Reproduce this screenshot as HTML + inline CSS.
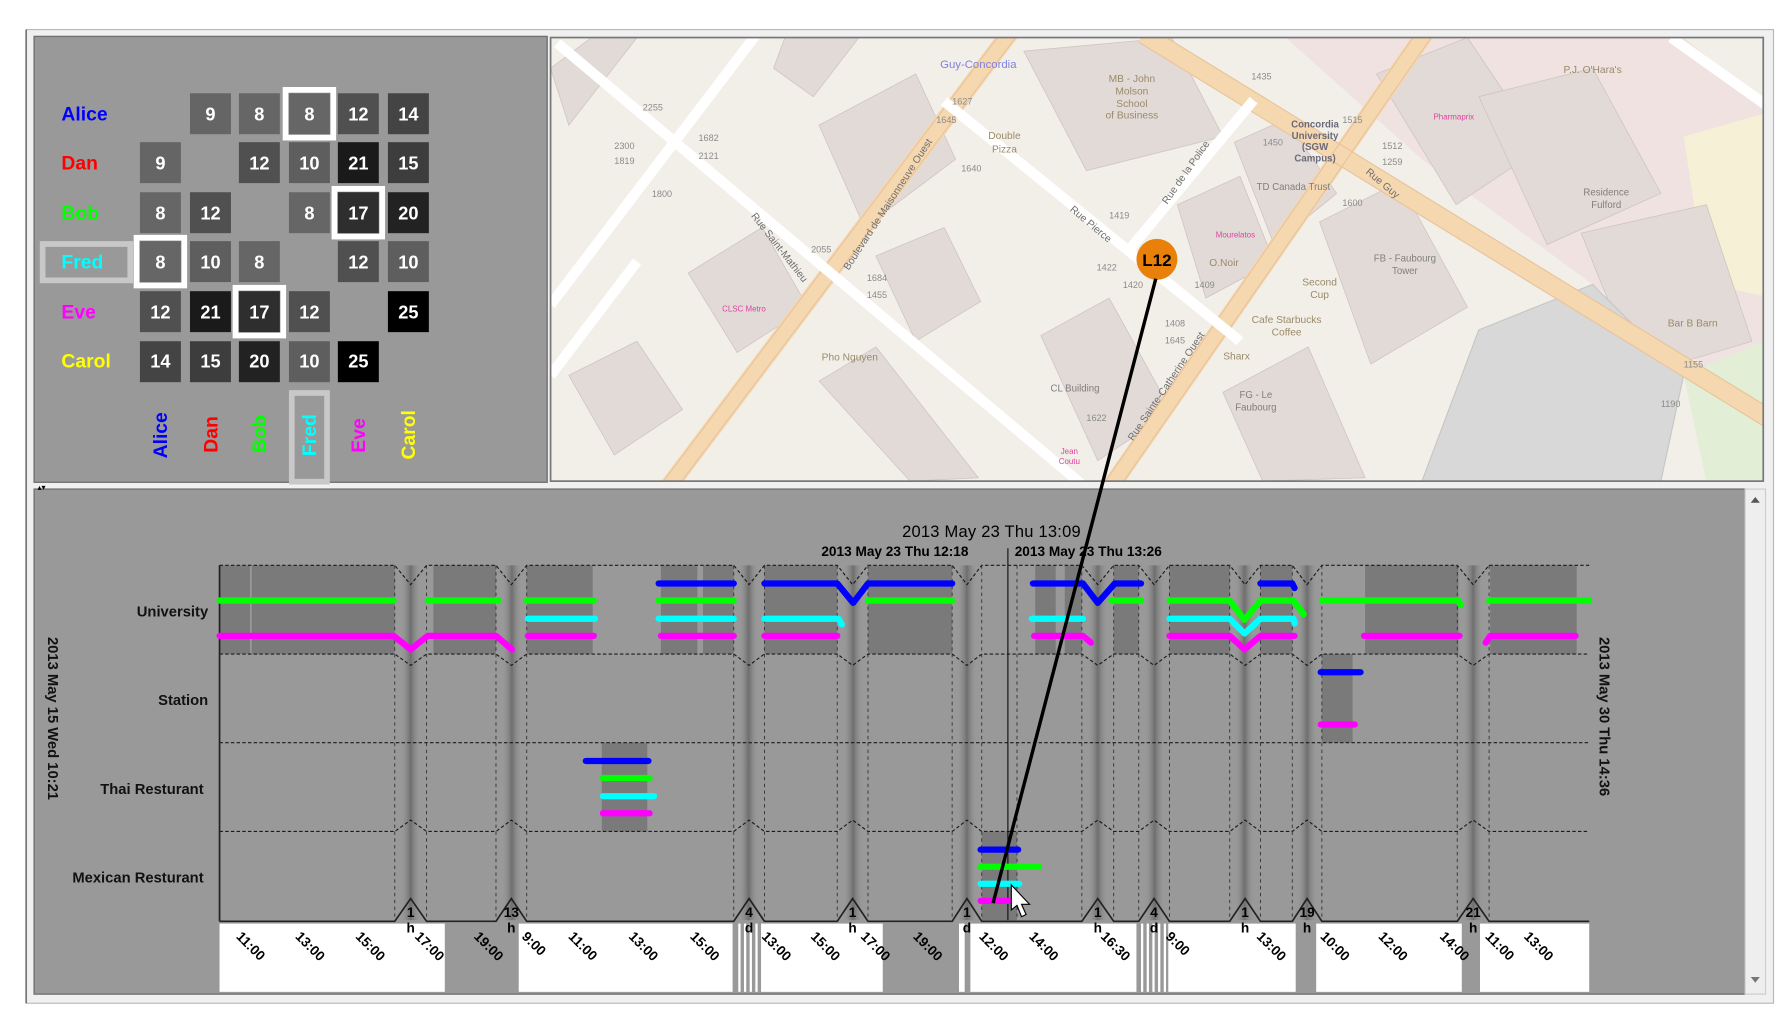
<!DOCTYPE html>
<html><head><meta charset="utf-8"><style>
html,body{margin:0;padding:0;background:#fff;}
svg{display:block;}
text{font-family:"Liberation Sans",Arial,sans-serif;}
</style></head><body>
<svg width="1786" height="1018" viewBox="0 0 1570 895" preserveAspectRatio="none" xmlns="http://www.w3.org/2000/svg">
<defs>
<linearGradient id="brk" x1="0" x2="1" y1="0" y2="0">
<stop offset="0" stop-color="#999" stop-opacity="0"/>
<stop offset="0.5" stop-color="#6e6e6e" stop-opacity="1"/>
<stop offset="1" stop-color="#999" stop-opacity="0"/>
</linearGradient>
</defs>
<rect width="1570" height="895" fill="#fff"/>
<rect x="23" y="26" width="1536" height="856" fill="#f0f0f0" stroke="#b8b8b8" stroke-width="1"/>
<line x1="23" y1="26" x2="23" y2="882" stroke="#777" stroke-width="1.5"/>

<!-- MATRIX PANEL -->
<rect x="30" y="32" width="451" height="392" fill="#999" stroke="#707070" stroke-width="1.2"/>
<g font-weight="bold" font-size="17">
<text x="54" y="106" fill="#0000ff">Alice</text>
<text x="54" y="149" fill="#ff0000">Dan</text>
<text x="54" y="193" fill="#00ff00">Bob</text>
<text x="54" y="236" fill="#00ffff">Fred</text>
<text x="54" y="280" fill="#ff00ff">Eve</text>
<text x="54" y="323" fill="#ffff00">Carol</text>
</g>
<rect x="37.5" y="214.5" width="77" height="32" fill="none" stroke="#c8c8c8" stroke-width="5"/>
<g>
<rect x="167" y="82" width="36" height="36" fill="#656565"/>
<rect x="210" y="82" width="36" height="36" fill="#666"/>
<rect x="254" y="82" width="36" height="36" fill="#666"/>
<rect x="297" y="82" width="36" height="36" fill="#505050"/>
<rect x="341" y="82" width="36" height="36" fill="#444"/>
<rect x="123" y="125" width="36" height="36" fill="#656565"/>
<rect x="210" y="125" width="36" height="36" fill="#505050"/>
<rect x="254" y="125" width="36" height="36" fill="#5e5e5e"/>
<rect x="297" y="125" width="36" height="36" fill="#1a1a1a"/>
<rect x="341" y="125" width="36" height="36" fill="#3d3d3d"/>
<rect x="123" y="169" width="36" height="36" fill="#666"/>
<rect x="167" y="169" width="36" height="36" fill="#505050"/>
<rect x="254" y="169" width="36" height="36" fill="#666"/>
<rect x="297" y="169" width="36" height="36" fill="#2e2e2e"/>
<rect x="341" y="169" width="36" height="36" fill="#222"/>
<rect x="123" y="212" width="36" height="36" fill="#666"/>
<rect x="167" y="212" width="36" height="36" fill="#5e5e5e"/>
<rect x="210" y="212" width="36" height="36" fill="#666"/>
<rect x="297" y="212" width="36" height="36" fill="#505050"/>
<rect x="341" y="212" width="36" height="36" fill="#5e5e5e"/>
<rect x="123" y="256" width="36" height="36" fill="#505050"/>
<rect x="167" y="256" width="36" height="36" fill="#1a1a1a"/>
<rect x="210" y="256" width="36" height="36" fill="#2e2e2e"/>
<rect x="254" y="256" width="36" height="36" fill="#505050"/>
<rect x="341" y="256" width="36" height="36" fill="#000"/>
<rect x="123" y="300" width="36" height="36" fill="#444"/>
<rect x="167" y="300" width="36" height="36" fill="#3d3d3d"/>
<rect x="210" y="300" width="36" height="36" fill="#222"/>
<rect x="254" y="300" width="36" height="36" fill="#5e5e5e"/>
<rect x="297" y="300" width="36" height="36" fill="#000"/>
</g>
<g fill="none" stroke="#fff" stroke-width="5">
<rect x="251" y="79" width="42" height="42"/>
<rect x="294" y="166" width="42" height="42"/>
<rect x="120" y="209" width="42" height="42"/>
<rect x="207" y="253" width="42" height="42"/>
</g>
<g font-weight="bold" font-size="16" fill="#fff" text-anchor="middle">
<text x="185" y="106">9</text><text x="228" y="106">8</text><text x="272" y="106">8</text><text x="315" y="106">12</text><text x="359" y="106">14</text>
<text x="141" y="149">9</text><text x="228" y="149">12</text><text x="272" y="149">10</text><text x="315" y="149">21</text><text x="359" y="149">15</text>
<text x="141" y="193">8</text><text x="185" y="193">12</text><text x="272" y="193">8</text><text x="315" y="193">17</text><text x="359" y="193">20</text>
<text x="141" y="236">8</text><text x="185" y="236">10</text><text x="228" y="236">8</text><text x="315" y="236">12</text><text x="359" y="236">10</text>
<text x="141" y="280">12</text><text x="185" y="280">21</text><text x="228" y="280">17</text><text x="272" y="280">12</text><text x="359" y="280">25</text>
<text x="141" y="323">14</text><text x="185" y="323">15</text><text x="228" y="323">20</text><text x="272" y="323">10</text><text x="315" y="323">25</text>
</g>
<rect x="256.5" y="345.5" width="31" height="78" fill="none" stroke="#c8c8c8" stroke-width="5"/>
<g font-weight="bold" font-size="17">
<text transform="translate(147,403) rotate(-90)" fill="#0000ff">Alice</text>
<text transform="translate(191,398) rotate(-90)" fill="#ff0000">Dan</text>
<text transform="translate(234,398) rotate(-90)" fill="#00ff00">Bob</text>
<text transform="translate(278,401) rotate(-90)" fill="#00ffff">Fred</text>
<text transform="translate(321,398) rotate(-90)" fill="#ff00ff">Eve</text>
<text transform="translate(365,404) rotate(-90)" fill="#ffff00">Carol</text>
</g>

<!-- MAP PANEL -->
<svg x="484" y="33" width="1066" height="390" viewBox="484 33 1066 390">
<rect x="484" y="33" width="1066" height="390" fill="#f2efe9"/>
<polygon points="1130,33 1480,33 1550,90 1550,360 1250,140" fill="#efe2e0"/>
<polygon points="1480,120 1550,100 1550,260 1500,250" fill="#f6f0d6"/>
<polygon points="1480,330 1550,300 1550,423 1500,423" fill="#e2efd6"/>
<g fill="#e2dad7" stroke="#cfc4c2" stroke-width="0.7">
<polygon points="690,33 755,33 715,85 680,60"/>
<polygon points="720,110 805,65 840,140 760,200"/>
<polygon points="605,240 670,200 710,270 648,310"/>
<polygon points="770,225 830,200 862,265 805,300"/>
<polygon points="720,335 770,305 860,420 800,423"/>
<polygon points="900,45 1030,33 1075,120 955,150"/>
<polygon points="1085,125 1130,105 1175,170 1120,215"/>
<polygon points="1035,180 1090,155 1120,230 1060,262"/>
<polygon points="915,295 975,262 1030,362 965,405"/>
<polygon points="1160,195 1230,160 1290,270 1205,320"/>
<polygon points="1075,345 1150,305 1200,420 1110,423"/>
<polygon points="1210,65 1290,33 1355,130 1280,180"/>
<polygon points="1300,85 1400,60 1460,170 1360,215"/>
<polygon points="1390,205 1500,180 1540,300 1440,330"/>
<polygon points="484,60 520,33 560,33 500,110"/>
<polygon points="500,330 560,300 600,360 540,400"/>
</g>
<polygon points="1300,290 1400,250 1480,330 1460,423 1250,423" fill="#d8d8d8" stroke="#c6c6c6"/>
<g stroke="#f5d7b0" stroke-width="16" stroke-linecap="butt" fill="none">
<line x1="586" y1="430" x2="890" y2="26"/>
<line x1="975" y1="430" x2="1255" y2="26"/>
<line x1="1005" y1="30" x2="1555" y2="368"/>
</g>
<g stroke="#e8c49b" stroke-width="1" fill="none">
<line x1="578" y1="430" x2="882" y2="26"/><line x1="594" y1="430" x2="898" y2="26"/>
<line x1="967" y1="430" x2="1247" y2="26"/><line x1="983" y1="430" x2="1263" y2="26"/>
<line x1="1009" y1="23" x2="1559" y2="361"/><line x1="1001" y1="37" x2="1551" y2="375"/>
</g>
<g stroke="#fff" stroke-width="9" fill="none">
<line x1="490" y1="38" x2="950" y2="425"/>
<line x1="830" y1="89" x2="1090" y2="300"/>
<line x1="665" y1="30" x2="484" y2="268"/>
<line x1="1102" y1="88" x2="994" y2="218"/>
<line x1="1469" y1="33" x2="1552" y2="92"/>
<line x1="560" y1="230" x2="484" y2="330"/>
</g>
<g fill="#8b8b8b" font-size="8">
<text x="565" y="97">2255</text><text x="540" y="131">2300</text><text x="540" y="144">1819</text>
<text x="614" y="124">1682</text><text x="614" y="140">2121</text><text x="573" y="173">1800</text>
<text x="837" y="92">1627</text><text x="823" y="108">1645</text><text x="845" y="151">1640</text>
<text x="1100" y="70">1435</text><text x="1180" y="108">1515</text><text x="1215" y="131">1512</text>
<text x="1215" y="145">1259</text><text x="1110" y="128">1450</text><text x="975" y="192">1419</text>
<text x="964" y="238">1422</text><text x="987" y="253">1420</text><text x="1050" y="253">1409</text>
<text x="1024" y="287">1408</text><text x="1024" y="302">1645</text><text x="1180" y="181">1600</text>
<text x="955" y="370">1622</text><text x="713" y="222">2055</text><text x="762" y="247">1684</text>
<text x="762" y="262">1455</text><text x="1480" y="323">1155</text><text x="1460" y="358">1190</text>
</g>
<g fill="#9a8a6a" font-size="9" text-anchor="middle">
<text x="883" y="122">Double</text><text x="883" y="134">Pizza</text>
<text x="995" y="72">MB - John</text><text x="995" y="83">Molson</text><text x="995" y="94">School</text><text x="995" y="104">of Business</text>
<text x="1076" y="234">O.Noir</text>
<text x="1160" y="251">Second</text><text x="1160" y="262">Cup</text>
<text x="1131" y="284">Cafe Starbucks</text><text x="1131" y="295">Coffee</text>
<text x="1087" y="316">Sharx</text>
<text x="747" y="317">Pho Nguyen</text>
<text x="1488" y="287">Bar B Barn</text>
<text x="1400" y="64">P.J. O'Hara's</text>
</g>
<g fill="#7f7f7f" font-size="8.5" text-anchor="middle">
<text x="1156" y="112" font-weight="bold" fill="#6a6a7a">Concordia</text><text x="1156" y="122" font-weight="bold" fill="#6a6a7a">University</text><text x="1156" y="132" font-weight="bold" fill="#6a6a7a">(SGW</text><text x="1156" y="142" font-weight="bold" fill="#6a6a7a">Campus)</text>
<text x="1137" y="167">TD Canada Trust</text>
<text x="1235" y="230">FB - Faubourg</text><text x="1235" y="241">Tower</text>
<text x="1104" y="350">FG - Le</text><text x="1104" y="361">Faubourg</text>
<text x="945" y="344">CL Building</text>
<text x="1412" y="172">Residence</text><text x="1412" y="183">Fulford</text>
</g>
<text x="860" y="60" font-size="10" fill="#8080e0" text-anchor="middle">Guy-Concordia</text>
<g fill="#e040a0" font-size="7" text-anchor="middle">
<text x="1278" y="105">Pharmaprix</text><text x="654" y="274">CLSC Metro</text><text x="940" y="399">Jean</text><text x="940" y="408">Coutu</text>
<text x="1086" y="209">Mourelatos</text>
</g>
<g fill="#6f6f6f" font-size="9">
<text transform="translate(660,190) rotate(52)">Rue Saint-Mathieu</text>
<text transform="translate(746,238) rotate(-57)">Boulevard de Maisonneuve Ouest</text>
<text transform="translate(940,185) rotate(40)">Rue Pierce</text>
<text transform="translate(1026,180) rotate(-55)">Rue de la Police</text>
<text transform="translate(1200,152) rotate(40)">Rue Guy</text>
<text transform="translate(996,388) rotate(-56)">Rue Sainte-Catherine Ouest</text>
</g>
<circle cx="1017" cy="228" r="18" fill="#e8800a"/>
<text x="1017" y="234" font-size="15" font-weight="bold" text-anchor="middle" fill="#000">L12</text>
</svg>
<rect x="484" y="33" width="1066" height="390" fill="none" stroke="#777" stroke-width="1.5"/>

<!-- TIMELINE PANEL -->
<rect x="30" y="430" width="1504" height="444" fill="#999" stroke="#707070" stroke-width="1.2"/>
<rect x="1534" y="430" width="18" height="444" fill="#eeeeee" stroke="#ccc"/>
<polygon points="1539,442 1543,437 1547,442" fill="#555"/>
<polygon points="1539,859 1543,864 1547,859" fill="#777"/>
<text x="33" y="431" font-size="7" fill="#000">▴▾</text>

<g fill="#7a7a7a">
<rect x="193" y="497" width="154" height="78"/>
<rect x="381" y="497" width="55" height="78"/>
<rect x="463" y="497" width="58" height="78"/>
<rect x="581" y="497" width="32" height="78"/>
<rect x="618" y="497" width="27" height="78"/>
<rect x="672" y="497" width="64" height="78"/>
<rect x="763" y="497" width="74" height="78"/>
<rect x="910" y="497" width="18" height="78"/>
<rect x="936" y="497" width="15" height="78"/>
<rect x="979" y="497" width="22" height="78"/>
<rect x="1028" y="497" width="53" height="78"/>
<rect x="1108" y="497" width="28" height="78"/>
<rect x="1200" y="497" width="82" height="78"/>
<rect x="1310" y="497" width="76" height="78"/>
<rect x="1162" y="575" width="27" height="78"/>
<rect x="529" y="653" width="40" height="78"/>
<rect x="863" y="731" width="31" height="78"/>
</g>
<line x1="220.5" y1="497" x2="220.5" y2="575" stroke="#999" stroke-width="1.5"/>

<g fill="url(#brk)">
<rect x="352" y="497" width="18" height="312"/>
<rect x="441" y="497" width="18" height="312"/>
<rect x="649" y="497" width="18" height="312"/>
<rect x="741" y="497" width="18" height="312"/>
<rect x="841" y="497" width="18" height="312"/>
<rect x="956" y="497" width="18" height="312"/>
<rect x="1006" y="497" width="18" height="312"/>
<rect x="1085" y="497" width="18" height="312"/>
<rect x="1140" y="497" width="18" height="312"/>
<rect x="1286" y="497" width="18" height="312"/>
</g>

<g stroke="#333" stroke-width="0.8" stroke-dasharray="3,3">
<line x1="347" y1="497" x2="347" y2="809"/><line x1="375" y1="497" x2="375" y2="809"/>
<line x1="436" y1="497" x2="436" y2="809"/><line x1="463" y1="497" x2="463" y2="809"/>
<line x1="645" y1="497" x2="645" y2="809"/><line x1="672" y1="497" x2="672" y2="809"/>
<line x1="736" y1="497" x2="736" y2="809"/><line x1="763" y1="497" x2="763" y2="809"/>
<line x1="837" y1="497" x2="837" y2="809"/><line x1="863" y1="497" x2="863" y2="809"/>
<line x1="894" y1="497" x2="894" y2="809"/>
<line x1="951" y1="497" x2="951" y2="809"/><line x1="979" y1="497" x2="979" y2="809"/>
<line x1="1001" y1="497" x2="1001" y2="809"/><line x1="1028" y1="497" x2="1028" y2="809"/>
<line x1="1081" y1="497" x2="1081" y2="809"/><line x1="1108" y1="497" x2="1108" y2="809"/>
<line x1="1136" y1="497" x2="1136" y2="809"/><line x1="1162" y1="497" x2="1162" y2="809"/>
<line x1="1281" y1="497" x2="1281" y2="809"/><line x1="1309" y1="497" x2="1309" y2="809"/>
</g>

<g fill="none" stroke="#1a1a1a" stroke-width="1" stroke-dasharray="3,2">
<polyline points="193,497 347,497 361,514 375,497 436,497 449.5,514 463,497 645,497 658.5,514 672,497 736,497 749.5,514 763,497 837,497 850,514 863,497 951,497 965,514 979,497 1001,497 1014.5,514 1028,497 1081,497 1094.5,514 1108,497 1136,497 1149,514 1162,497 1281,497 1295,514 1309,497 1397,497"/>
<polyline points="193,575 347,575 361,585 375,575 436,575 449.5,585 463,575 645,575 658.5,585 672,575 736,575 749.5,585 763,575 837,575 850,585 863,575 951,575 965,585 979,575 1001,575 1014.5,585 1028,575 1081,575 1094.5,585 1108,575 1136,575 1149,585 1162,575 1281,575 1295,585 1309,575 1397,575"/>
<line x1="193" y1="653" x2="1397" y2="653"/>
<polyline points="193,731 347,731 361,721 375,731 436,731 449.5,721 463,731 645,731 658.5,721 672,731 736,731 749.5,721 763,731 837,731 850,721 863,731 951,731 965,721 979,731 1001,731 1014.5,721 1028,731 1081,731 1094.5,721 1108,731 1136,731 1149,721 1162,731 1281,731 1295,721 1309,731 1397,731"/>
</g>

<g fill="#fff">
<rect x="193" y="812" width="198" height="60"/>
<rect x="456" y="812" width="188" height="60"/>
<rect x="669" y="812" width="107" height="60"/>
<rect x="843" y="812" width="5" height="60"/>
<rect x="853" y="812" width="146" height="60"/>
<rect x="1027" y="812" width="112" height="60"/>
<rect x="1157" y="812" width="128" height="60"/>
<rect x="1301" y="812" width="96" height="60"/>
<rect x="649" y="812" width="2" height="60"/><rect x="654" y="812" width="2" height="60"/><rect x="659" y="812" width="2" height="60"/><rect x="664" y="812" width="2" height="60"/>
<rect x="1003" y="812" width="2" height="60"/><rect x="1008" y="812" width="2" height="60"/><rect x="1013" y="812" width="2" height="60"/><rect x="1018" y="812" width="2" height="60"/><rect x="1023" y="812" width="2" height="60"/>
</g>

<line x1="193" y1="497" x2="193" y2="810" stroke="#222" stroke-width="1.5"/>
<polyline fill="none" stroke="#222" stroke-width="1.5" points="193,810 347,810 361,790 375,810 436,810 449.5,790 463,810 645,810 658.5,790 672,810 736,810 749.5,790 763,810 837,810 850,790 863,810 951,810 965,790 979,810 1001,810 1014.5,790 1028,810 1081,810 1094.5,790 1108,810 1136,810 1149,790 1162,810 1281,810 1295,790 1309,810 1397,810"/>
<g font-size="12" font-weight="bold" text-anchor="middle" fill="#000">
<text x="361" y="806">1</text><text x="361" y="820">h</text>
<text x="449.5" y="806">13</text><text x="449.5" y="820">h</text>
<text x="658.5" y="806">4</text><text x="658.5" y="820">d</text>
<text x="749.5" y="806">1</text><text x="749.5" y="820">h</text>
<text x="850" y="806">1</text><text x="850" y="820">d</text>
<text x="965" y="806">1</text><text x="965" y="820">h</text>
<text x="1014.5" y="806">4</text><text x="1014.5" y="820">d</text>
<text x="1094.5" y="806">1</text><text x="1094.5" y="820">h</text>
<text x="1149" y="806">19</text><text x="1149" y="820">h</text>
<text x="1295" y="806">21</text><text x="1295" y="820">h</text>
</g>
<g font-size="12" font-weight="bold" fill="#000">
<text transform="translate(207,824) rotate(45)">11:00</text>
<text transform="translate(259,824) rotate(45)">13:00</text>
<text transform="translate(312,824) rotate(45)">15:00</text>
<text transform="translate(364,824) rotate(45)">17:00</text>
<text transform="translate(416,824) rotate(45)">19:00</text>
<text transform="translate(458,824) rotate(45)">9:00</text>
<text transform="translate(499,824) rotate(45)">11:00</text>
<text transform="translate(552,824) rotate(45)">13:00</text>
<text transform="translate(606,824) rotate(45)">15:00</text>
<text transform="translate(669,824) rotate(45)">13:00</text>
<text transform="translate(712,824) rotate(45)">15:00</text>
<text transform="translate(756,824) rotate(45)">17:00</text>
<text transform="translate(802,824) rotate(45)">19:00</text>
<text transform="translate(860,824) rotate(45)">12:00</text>
<text transform="translate(904,824) rotate(45)">14:00</text>
<text transform="translate(967,824) rotate(45)">16:30</text>
<text transform="translate(1024,824) rotate(45)">9:00</text>
<text transform="translate(1104,824) rotate(45)">13:00</text>
<text transform="translate(1160,824) rotate(45)">10:00</text>
<text transform="translate(1211,824) rotate(45)">12:00</text>
<text transform="translate(1265,824) rotate(45)">14:00</text>
<text transform="translate(1305,824) rotate(45)">11:00</text>
<text transform="translate(1339,824) rotate(45)">13:00</text>
</g>

<g font-size="13" font-weight="bold" fill="#111" text-anchor="end">
<text x="183" y="542">University</text>
<text x="183" y="620">Station</text>
<text x="179" y="698">Thai Resturant</text>
<text x="179" y="776">Mexican Resturant</text>
</g>
<text transform="translate(42,560) rotate(90)" font-size="13" font-weight="bold" fill="#111">2013 May 15 Wed 10:21</text>
<text transform="translate(1406,560) rotate(90)" font-size="13" font-weight="bold" fill="#111">2013 May 30 Thu 14:36</text>
<text x="793" y="472" font-size="14.5" fill="#000" textLength="157">2013 May 23 Thu 13:09</text>
<text x="722" y="489" font-size="12" font-weight="bold" fill="#000">2013 May 23 Thu 12:18</text>
<text x="892" y="489" font-size="12" font-weight="bold" fill="#000">2013 May 23 Thu 13:26</text>
<line x1="886" y1="482" x2="886" y2="809" stroke="#111" stroke-width="1"/>

<g fill="none" stroke-width="5.5" stroke-linecap="round" stroke-linejoin="round">
<g stroke="#0000ff">
<polyline points="579,513 645,513"/>
<polyline points="672,513 736,513 750,530 763,513 837,513"/>
<polyline points="908,513 952,513 965,530 980,513 1003,513"/>
<polyline points="1108,513 1136,513 1138,517"/>
<polyline points="1161,591 1196,591"/>
<polyline points="515,669 570,669"/>
<polyline points="862,747 895,747"/>
</g>
<g stroke="#00ff00">
<polyline points="193,528 346,528"/>
<polyline points="376,528 438,528"/>
<polyline points="463,528 522,528"/>
<polyline points="579,528 645,528"/>
<polyline points="763,528 837,528"/>
<polyline points="977,528 1003,528"/>
<polyline points="1028,528 1081,528 1094,545 1108,528 1137,528 1146,540"/>
<polyline points="1162,528 1282,528 1284,532"/>
<polyline points="1309,528 1397,528"/>
<polyline points="530,684 571,684"/>
<polyline points="862,762 913,762"/>
</g>
<g stroke="#00ffff">
<polyline points="464,544 523,544"/>
<polyline points="579,544 645,544"/>
<polyline points="672,544 737,544 740,549"/>
<polyline points="907,544 952,544"/>
<polyline points="1028,544 1081,544 1094,557 1108,544 1137,544 1138,548"/>
<polyline points="530,700 575,700"/>
<polyline points="862,777 896,777"/>
</g>
<g stroke="#ff00ff">
<polyline points="193,559 346,559 361,571 376,559 436,559 450,571"/>
<polyline points="464,559 522,559"/>
<polyline points="581,559 645,559"/>
<polyline points="672,559 736,559"/>
<polyline points="909,559 952,559 959,565"/>
<polyline points="1028,559 1081,559 1094,571 1108,559 1138,559"/>
<polyline points="1199,559 1283,559"/>
<polyline points="1306,565 1310,559 1385,559"/>
<polyline points="1161,637 1191,637"/>
<polyline points="530,715 571,715"/>
<polyline points="862,792 889,792"/>
</g>
</g>

<line x1="1016" y1="245" x2="873" y2="794" stroke="#000" stroke-width="3"/>
<polygon points="889,778 889,800 894,796 898,806 902,804 898,795 905,795" fill="#fff" stroke="#000" stroke-width="1"/>
</svg>
</body></html>
